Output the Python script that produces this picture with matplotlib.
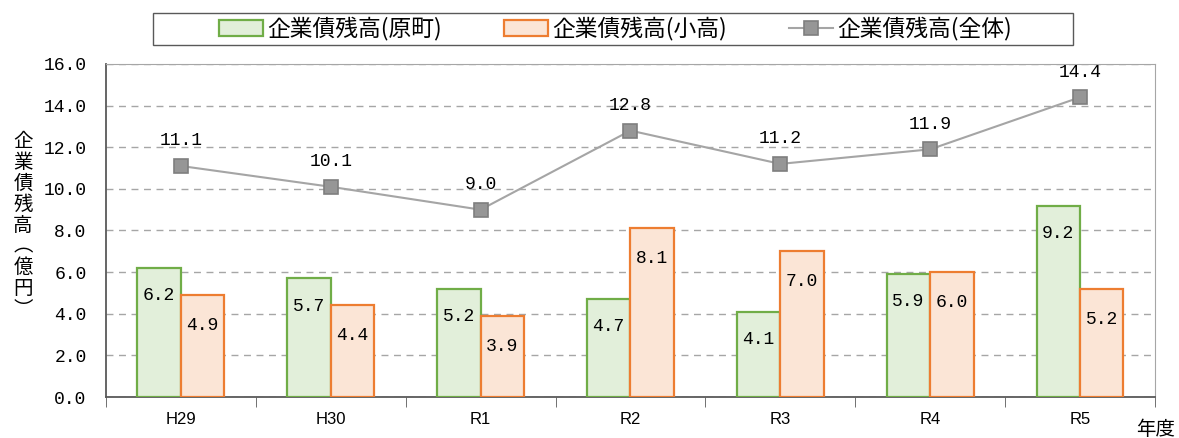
import numpy as np
import matplotlib.pyplot as plt
from matplotlib.patches import Rectangle

plt.rcParams['font.family'] = ['Liberation Sans', 'Noto Sans CJK JP', 'DejaVu Sans']

# data
years = ["H29", "H30", "R1", "R2", "R3", "R4", "R5"]
haramachi = [6.2, 5.7, 5.2, 4.7, 4.1, 5.9, 9.2]
odaka = [4.9, 4.4, 3.9, 8.1, 7.0, 6.0, 5.2]
total = [11.1, 10.1, 9.0, 12.8, 11.2, 11.9, 14.4]
yticks = [0, 2, 4, 6, 8, 10, 12, 14, 16]

green_edge, green_fill = "#70AD47", "#E2EFDA"
orange_edge, orange_fill = "#ED7D31", "#FBE5D6"
gray_line, gray_mark = "#A5A5A5", "#969696"
num_font = "Liberation Mono"
jp_font = ["Noto Sans CJK JP", "DejaVu Sans"]

W, H = 1179, 438
fig = plt.figure(figsize=(W / 100, H / 100), dpi=100)
ax = fig.add_axes([0.0899, 0.0936, 0.8897, 0.7603])

x = np.arange(len(years))
w = 0.29
b1 = ax.bar(x - w / 2, haramachi, w, color=green_fill, edgecolor=green_edge,
            linewidth=1.6, label="企業債残高(原町)", zorder=3)
b2 = ax.bar(x + w / 2, odaka, w, color=orange_fill, edgecolor=orange_edge,
            linewidth=1.6, label="企業債残高(小高)", zorder=3)
ln, = ax.plot(x, total, color=gray_line, linewidth=1.5, marker="s",
              markersize=10, markerfacecolor=gray_mark, markeredgecolor="#7F7F7F",
              markeredgewidth=1.2, label="企業債残高(全体)", zorder=4)

# labels
for xi, v in zip(x - w / 2, haramachi):
    ax.annotate(f"{v:.1f}", (xi, v), xytext=(0, -20), textcoords="offset points",
                ha="center", va="center", fontsize=13, family=num_font, zorder=5)
for xi, v in zip(x + w / 2, odaka):
    ax.annotate(f"{v:.1f}", (xi, v), xytext=(0, -22), textcoords="offset points",
                ha="center", va="center", fontsize=13, family=num_font, zorder=5)
for xi, v in zip(x, total):
    ax.annotate(f"{v:.1f}", (xi, v), xytext=(0, 18), textcoords="offset points",
                ha="center", va="center", fontsize=13, family=num_font, zorder=5)

ax.set_xlim(-0.5, len(years) - 0.5)
ax.set_ylim(0, 16)
ax.set_yticks(yticks)
ax.set_yticklabels([f"{t:.1f}" for t in yticks], family=num_font, fontsize=13)
ax.tick_params(axis="y", length=0, pad=14)
ax.set_xticks(x)
ax.set_xticklabels(years, fontsize=12)
ax.set_xticks(np.arange(-0.5, len(years)), minor=True)
ax.tick_params(axis="x", which="major", length=0, pad=11)
ax.tick_params(axis="x", which="minor", length=7, direction="out", color="#595959")

ax.yaxis.grid(True, linestyle=(0, (5, 4)), color="#A6A6A6", linewidth=1.0, zorder=0)
ax.set_axisbelow(True)
for s in ["top", "right"]:
    ax.spines[s].set_color("#A6A6A6")
for s in ["left", "bottom"]:
    ax.spines[s].set_color("#595959")
    ax.spines[s].set_linewidth(1.3)

# vertical y label
ylab = "\n".join(["企", "業", "債", "残", "高", "︵", "億", "円", "︶"])
fig.text(0.0195, 0.486, ylab, ha="center", va="center", fontsize=14,
         family=jp_font, linespacing=1.0)
fig.text(0.980, -0.005, "年度", ha="center", va="bottom", fontsize=14, family=jp_font)

# legend box drawn separately (wider than contents)
fig.patches.append(Rectangle((153 / W, 1 - 45 / H), 920 / W, 32 / H, transform=fig.transFigure,
                             fill=False, edgecolor="#595959", linewidth=1.0))
leg = fig.legend(handles=[b1, b2, ln], loc="center", bbox_to_anchor=(0.522, 0.934),
                 ncol=3, prop={"family": jp_font, "size": 16.4}, frameon=False,
                 handlelength=1.93, columnspacing=2.7, handletextpad=0.2, borderpad=0.2)

fig.savefig("out.png", dpi=100)
